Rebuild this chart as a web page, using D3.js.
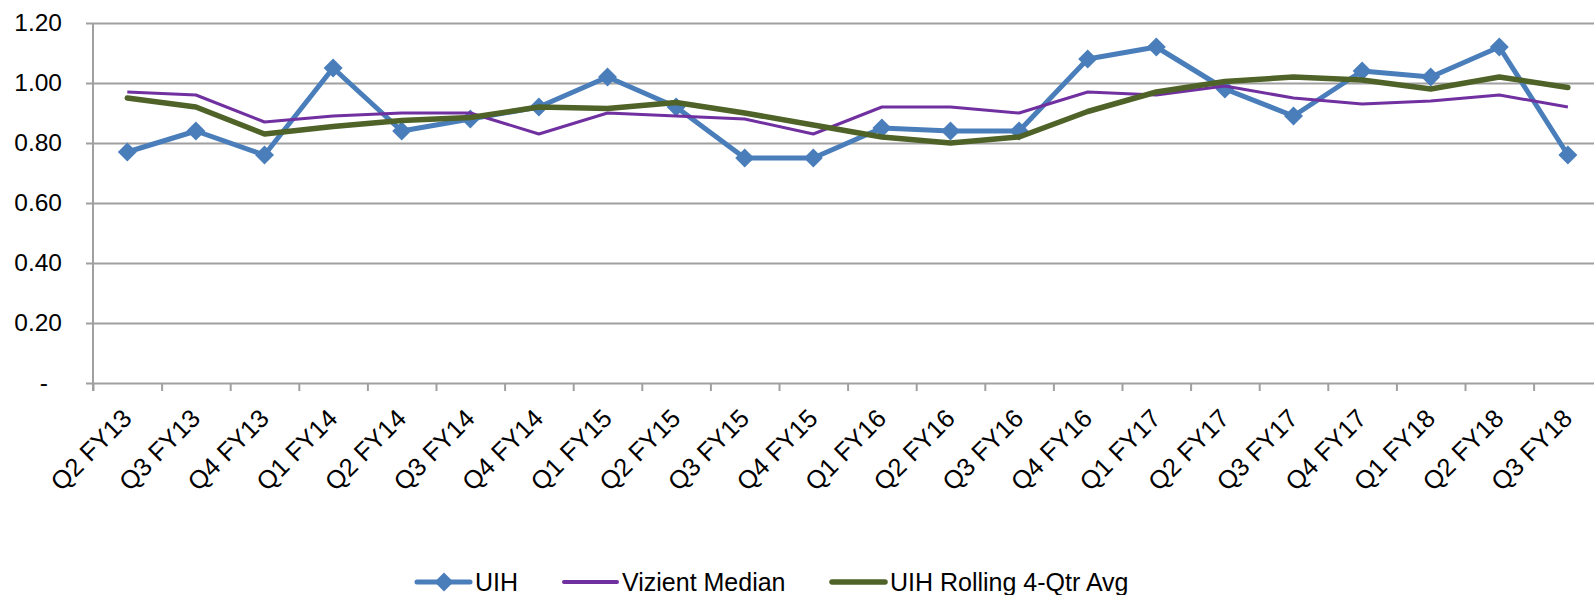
<!DOCTYPE html>
<html>
<head>
<meta charset="utf-8">
<script src="https://cdn.jsdelivr.net/npm/d3@7"></script>
<style>
  body { margin: 0; background: #fff; }
  svg { display: block; font-family: "Liberation Sans", Arial, sans-serif; }
</style>
</head>
<body>
<svg width="1594" height="595"></svg>
<script>
const categories = [
  "Q2 FY13", "Q3 FY13", "Q4 FY13", "Q1 FY14", "Q2 FY14", "Q3 FY14", "Q4 FY14",
  "Q1 FY15", "Q2 FY15", "Q3 FY15", "Q4 FY15", "Q1 FY16", "Q2 FY16", "Q3 FY16",
  "Q4 FY16", "Q1 FY17", "Q2 FY17", "Q3 FY17", "Q4 FY17", "Q1 FY18", "Q2 FY18", "Q3 FY18"
];
const uih = [0.77, 0.84, 0.76, 1.05, 0.84, 0.88, 0.92, 1.02, 0.92, 0.75, 0.75,
  0.85, 0.84, 0.84, 1.08, 1.12, 0.98, 0.89, 1.04, 1.02, 1.12, 0.76];
const vizientMedian = [0.97, 0.96, 0.87, 0.89, 0.90, 0.90, 0.83, 0.90, 0.89, 0.88, 0.83,
  0.92, 0.92, 0.90, 0.97, 0.96, 0.99, 0.95, 0.93, 0.94, 0.96, 0.92];
const rolling4Qtr = [0.95, 0.92, 0.83, 0.855, 0.875, 0.885, 0.92, 0.915, 0.935, 0.90, 0.86,
  0.82, 0.80, 0.82, 0.905, 0.97, 1.005, 1.02, 1.01, 0.98, 1.02, 0.985];
const yTicks = [0, 0.2, 0.4, 0.6, 0.8, 1.0, 1.2];
const seriesNames = ["UIH", "Vizient Median", "UIH Rolling 4-Qtr Avg"];

const svg = d3.select("svg"),
  plotLeft = 93, plotTop = 23, plotBottom = 383, band = 68.6,
  plotRight = plotLeft + band * categories.length,
  grid = "#a0a0a0";

const x = d3.scaleBand().domain(categories).range([plotLeft, plotRight]).padding(0);
const xi = d3.scaleLinear().domain([0, categories.length]).range([plotLeft, plotRight]);
const y = d3.scaleLinear().domain([0, 1.2]).range([plotBottom, plotTop]);
const cx = (d) => x(d) + x.bandwidth() / 2;

// gridlines + y labels
const gy = svg.append("g")
  .attr("transform", `translate(${plotLeft},0)`)
  .call(d3.axisLeft(y).tickValues(yTicks).tickSize(7).tickPadding(24)
    .tickFormat((d) => (d === 0 ? "-" : d3.format(".2f")(d))));
gy.select(".domain").remove();
gy.selectAll(".tick line").attr("stroke", grid).attr("stroke-width", 2)
  .attr("x1", -7).attr("x2", plotRight - plotLeft);
gy.selectAll(".tick text").attr("font-size", 24.5).attr("fill", "#000")
  .attr("x", (d) => (d === 0 ? -45 : -31));

// y-axis line
svg.append("line")
  .attr("x1", plotLeft).attr("x2", plotLeft).attr("y1", plotTop).attr("y2", plotBottom + 8)
  .attr("stroke", grid).attr("stroke-width", 2);

// x tick marks on band boundaries
const gt = svg.append("g")
  .attr("transform", `translate(0,${plotBottom})`)
  .call(d3.axisBottom(xi).tickValues(d3.range(categories.length + 1))
    .tickSize(8).tickFormat(""));
gt.select(".domain").remove();
gt.selectAll(".tick line").attr("stroke", grid).attr("stroke-width", 2);

// x labels
const gx = svg.append("g")
  .attr("transform", `translate(0,${plotBottom})`)
  .call(d3.axisBottom(x).tickSize(0));
gx.select(".domain").remove();
gx.selectAll(".tick text")
  .attr("font-size", 25.5).attr("fill", "#000")
  .attr("text-anchor", "end")
  .attr("y", 0).attr("dy", 0)
  .attr("transform", "translate(6,37) rotate(-45)");

const line = d3.line().x((d, i) => cx(categories[i])).y((d) => y(d));
const diamond = d3.symbol().type(d3.symbolDiamond2).size(230);

// UIH
svg.append("path").datum(uih)
  .attr("d", line).attr("fill", "none")
  .attr("stroke", "#4a7ebb").attr("stroke-width", 5).attr("stroke-linejoin", "round");
svg.selectAll(".uih-pt").data(uih).enter().append("path")
  .attr("class", "uih-pt")
  .attr("d", diamond)
  .attr("transform", (d, i) => `translate(${cx(categories[i])},${y(d)})`)
  .attr("fill", "#4a7ebb");

// Vizient median
svg.append("path").datum(vizientMedian)
  .attr("d", line).attr("fill", "none")
  .attr("stroke", "#7030a0").attr("stroke-width", 3).attr("stroke-linejoin", "round");

// rolling average
svg.append("path").datum(rolling4Qtr)
  .attr("d", line).attr("fill", "none")
  .attr("stroke", "#4f6228").attr("stroke-width", 5.5)
  .attr("stroke-linejoin", "round").attr("stroke-linecap", "round");

// legend
const legend = [
  { name: seriesNames[0], x: 417, color: "#4a7ebb", w: 5, marker: true },
  { name: seriesNames[1], x: 564, color: "#7030a0", w: 4, marker: false },
  { name: seriesNames[2], x: 832, color: "#4f6228", w: 5.5, marker: false }
];
const lg = svg.append("g").attr("transform", "translate(0,582)");
legend.forEach((l) => {
  lg.append("line").attr("x1", l.x).attr("x2", l.x + 53)
    .attr("stroke", l.color).attr("stroke-width", l.w).attr("stroke-linecap", "round");
  if (l.marker) {
    lg.append("path").attr("d", diamond)
      .attr("transform", `translate(${l.x + 27},0)`).attr("fill", l.color);
  }
  lg.append("text").attr("x", l.x + 58).attr("y", 8.5)
    .attr("font-size", 25).attr("fill", "#000").text(l.name);
});
</script>
</body>
</html>
